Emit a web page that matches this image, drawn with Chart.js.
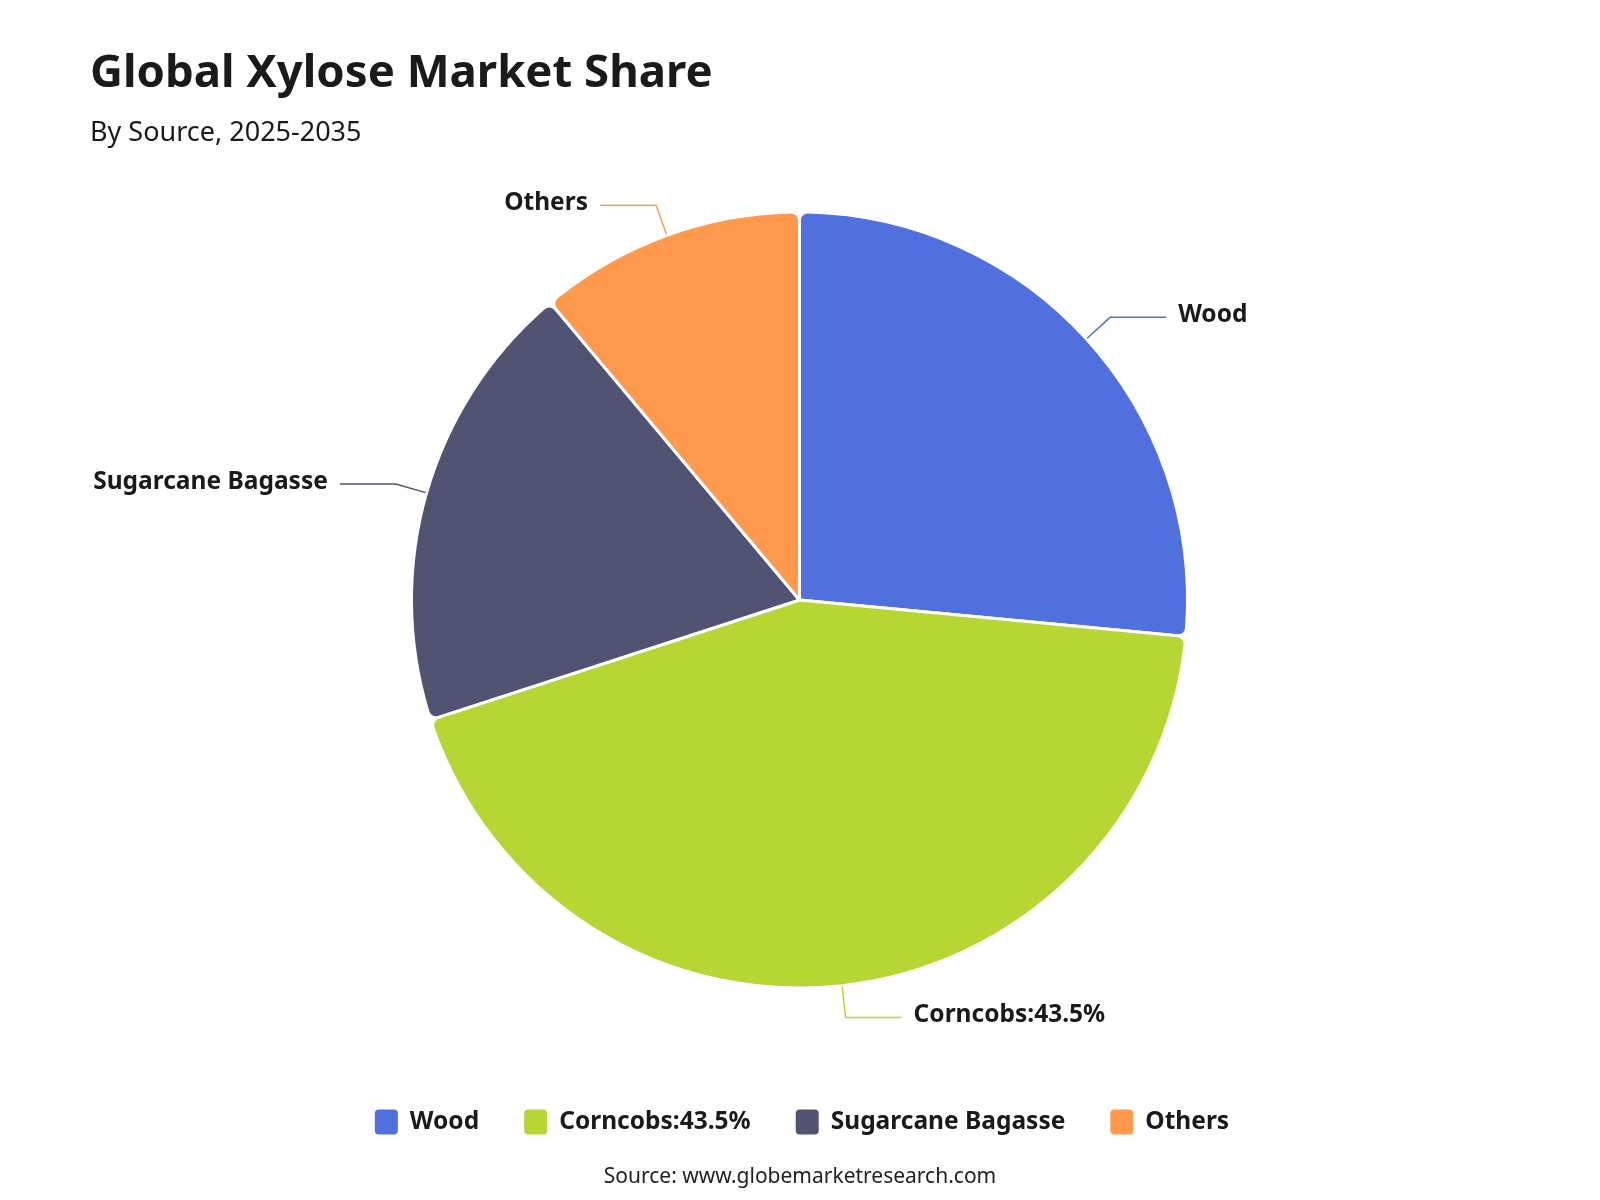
<!DOCTYPE html>
<html>
<head>
<meta charset="utf-8">
<title>Global Xylose Market Share</title>
<script src="https://cdn.jsdelivr.net/npm/chart.js@4.4.1/dist/chart.umd.min.js"></script>
<style>
  html, body { margin: 0; padding: 0; background: #fff; }
  #wrap { width: 1600px; height: 1200px; position: relative; }
</style>
</head>
<body>
<div id="wrap"><canvas id="chart" width="1600" height="1200"></canvas></div>
<script>
// values (share of market, %)
const categories = ['Wood', 'Corncobs:43.5%', 'Sugarcane Bagasse', 'Others'];
const shares = [26.5, 43.5, 18.9, 11.1];
const colors = ['#5070dd', '#b6d634', '#505372', '#ff994d'];

const FONT = '"Noto Sans", "Open Sans", sans-serif';
const TEXT = '#1a1a1a';

// leader lines + outside labels
const leaderLabels = {
    id: 'leaderLabels',
    afterDatasetsDraw(chart) {
        const ctx = chart.ctx;
        const meta = chart.getDatasetMeta(0);
        ctx.save();
        ctx.font = 'bold 24.5px ' + FONT;
        ctx.textBaseline = 'middle';
        meta.data.forEach((arc, i) => {
            const p = arc.getProps(['x', 'y', 'startAngle', 'endAngle', 'outerRadius'], true);
            const mid = (p.startAngle + p.endAngle) / 2;
            const cos = Math.cos(mid), sin = Math.sin(mid);
            const r0 = p.outerRadius + 1;
            const x0 = p.x + cos * r0, y0 = p.y + sin * r0;
            const x1 = p.x + cos * (r0 + 31), y1 = p.y + sin * (r0 + 31);
            const dir = cos >= 0 ? 1 : -1;
            const x2 = x1 + dir * 56;

            ctx.strokeStyle = colors[i];
            ctx.lineWidth = 1.5;
            ctx.beginPath();
            ctx.moveTo(x0, y0);
            ctx.lineTo(x1, y1);
            ctx.lineTo(x2, y1);
            ctx.stroke();

            ctx.fillStyle = TEXT;
            ctx.textAlign = dir > 0 ? 'left' : 'right';
            ctx.fillText(categories[i], x2 + dir * 12, y1 - 2);
        });
        ctx.restore();
    }
};

// title, subtitle, legend and source line
const frame = {
    id: 'frame',
    afterDraw(chart) {
        const ctx = chart.ctx;
        ctx.save();
        ctx.fillStyle = TEXT;
        ctx.textAlign = 'left';
        ctx.textBaseline = 'alphabetic';
        ctx.font = 'bold 45.5px ' + FONT;
        ctx.fillText('Global Xylose Market Share', 90, 87);
        ctx.font = '27px ' + FONT;
        ctx.fillText('By Source, 2025-2035', 90, 141);

        // legend
        ctx.font = 'bold 24.5px ' + FONT;
        const boxW = 23, boxH = 25, gap = 12, itemGap = 45;
        const widths = categories.map(c => boxW + gap + ctx.measureText(c).width);
        const total = widths.reduce((a, b) => a + b, 0) + itemGap * (categories.length - 1);
        let x = 802 - total / 2;
        const ly = 1122;
        ctx.textBaseline = 'middle';
        categories.forEach((c, i) => {
            ctx.fillStyle = colors[i];
            ctx.beginPath();
            ctx.roundRect(x, ly - boxH / 2, boxW, boxH, 4);
            ctx.fill();
            ctx.fillStyle = TEXT;
            ctx.fillText(c, x + boxW + gap, ly);
            x += widths[i] + itemGap;
        });

        ctx.font = '21px ' + FONT;
        ctx.textAlign = 'center';
        ctx.fillStyle = '#222';
        ctx.fillText('Source: www.globemarketresearch.com', 800, 1177);
        ctx.restore();
    }
};

function draw() {
    new Chart(document.getElementById('chart'), {
        type: 'pie',
        data: {
            labels: categories,
            datasets: [{
                data: shares,
                backgroundColor: colors,
                borderColor: '#ffffff',
                borderWidth: 3,
                borderRadius: 8,
                hoverOffset: 0
            }]
        },
        options: {
            responsive: false,
            animation: false,
            radius: 388,
            layout: { padding: { left: 400, right: 401, top: 200, bottom: 200 } },
            plugins: {
                legend: { display: false },
                title: { display: false },
                tooltip: { enabled: false }
            }
        },
        plugins: [leaderLabels, frame]
    });
}

if (document.fonts && document.fonts.load) {
    Promise.all([
        document.fonts.load('bold 22px "Noto Sans"'),
        document.fonts.load('22px "Noto Sans"')
    ]).then(draw, draw);
} else {
    draw();
}
</script>
</body>
</html>
